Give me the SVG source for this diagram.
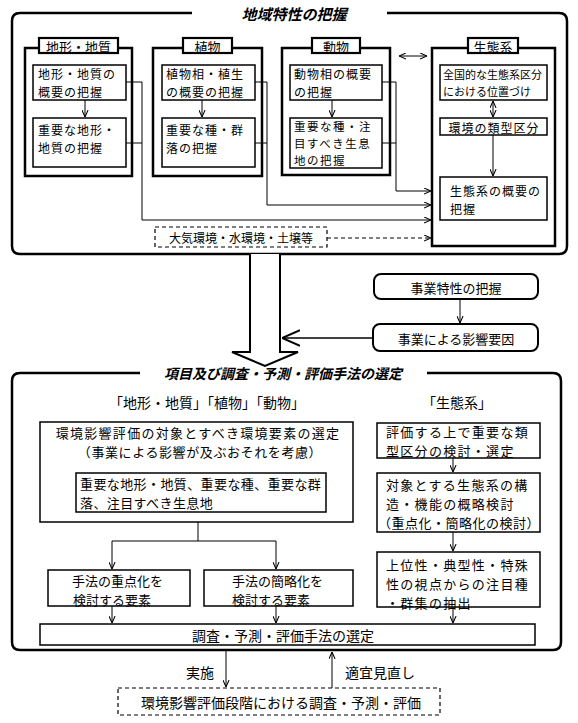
<svg xmlns="http://www.w3.org/2000/svg" width="578" height="723" viewBox="0 0 578 723">
<style>
text{font-family:"Noto Sans CJK JP","Noto Sans CJK SC",sans-serif;fill:#000;dominant-baseline:central}
.t13{font-size:13px}
.s{font-size:12px;letter-spacing:1px}
.s3{font-size:11.5px;letter-spacing:1.5px}
.b{font-size:13px;letter-spacing:1.3px}
.t14{font-size:14px}
.t12{font-size:12px}
.t11{font-size:11px}
.mid{text-anchor:middle}
.ttl{font-size:15px;font-weight:bold;font-style:italic;text-anchor:middle}
.box{fill:#fff;stroke:#000;stroke-width:1.5}
.obox{fill:#fff;stroke:#000;stroke-width:2.5}
.tab{fill:#fff;stroke:#000;stroke-width:2.2}
.frame{fill:none;stroke:#000;stroke-width:2.5}
.rbox{fill:#fff;stroke:#000;stroke-width:2}
.dbox{fill:#fff;stroke:#000;stroke-width:1.2;stroke-dasharray:4 3}
.c{fill:none;stroke:#000;stroke-width:1}
.a{marker-end:url(#ah)}
</style>
<defs>
<marker id="ah" viewBox="0 0 8 8" refX="8" refY="4" markerWidth="7" markerHeight="7" orient="auto-start-reverse" markerUnits="userSpaceOnUse">
<path d="M0,0.5 L8,4 L0,7.5" fill="none" stroke="#000" stroke-width="1.2"/>
</marker>
<marker id="ahL" viewBox="0 0 16 16" refX="16" refY="8" markerWidth="18" markerHeight="18" orient="auto" markerUnits="userSpaceOnUse">
<path d="M0,1 L16,8 L0,15" fill="none" stroke="#000" stroke-width="1.8"/>
</marker>
</defs>

<g id="regional">
<path class="frame" d="M192,13 H20 Q12,13 12,21 V246 Q12,254 20,254 H559 Q567,254 567,246 V21 Q567,13 559,13 H387"/>
<text class="ttl" x="294" y="13">地域特性の把握</text>
</g>

<g id="topo">
<rect class="obox" x="25" y="48" width="107" height="128"/>
<rect class="tab" x="39" y="38" width="79" height="15"/>
<text class="t13 mid" x="78.5" y="46">地形・地質</text>
<rect class="box" x="33" y="65" width="93" height="35"/>
<text class="s" x="38" y="73">地形・地質の</text>
<text class="s" x="38" y="91">概要の把握</text>
<rect class="box" x="33" y="118" width="93" height="49"/>
<text class="s" x="38" y="129">重要な地形・</text>
<text class="s" x="38" y="147">地質の把握</text>
</g>

<g id="plant">
<rect class="obox" x="153" y="48" width="109" height="128"/>
<rect class="tab" x="183" y="38" width="49" height="15"/>
<text class="t13 mid" x="207.5" y="46">植物</text>
<rect class="box" x="162" y="65" width="93" height="35"/>
<text class="s" x="166" y="73">植物相・植生</text>
<text class="s" x="166" y="91">の概要の把握</text>
<rect class="box" x="162" y="118" width="93" height="49"/>
<text class="s" x="166" y="129">重要な種・群</text>
<text class="s" x="166" y="147">落の把握</text>
</g>

<g id="animal">
<rect class="obox" x="282" y="48" width="108" height="127"/>
<rect class="tab" x="312" y="38" width="48" height="15"/>
<text class="t13 mid" x="336" y="46">動物</text>
<rect class="box" x="290" y="65" width="92" height="35"/>
<text class="s" x="294" y="73">動物相の概要</text>
<text class="s" x="294" y="91">の把握</text>
<rect class="box" x="290" y="118" width="92" height="50"/>
<text class="s3" x="294" y="126">重要な種・注</text>
<text class="s3" x="294" y="143">目すべき生息</text>
<text class="s3" x="294" y="160">地の把握</text>
</g>

<g id="eco">
<rect class="obox" x="432" y="48" width="123" height="198"/>
<rect class="tab" x="468" y="38" width="50" height="15"/>
<text class="t13 mid" x="493" y="46">生態系</text>
<rect class="box" x="440" y="65" width="107" height="35"/>
<text class="t11" x="443" y="74">全国的な生態系区分</text>
<text class="t11" x="443" y="91">における位置づけ</text>
<rect class="box" x="440" y="118" width="107" height="17"/>
<text class="s mid" x="494" y="127">環境の類型区分</text>
<rect class="box" x="440" y="177" width="107" height="43"/>
<text class="s" x="450" y="190">生態系の概要の</text>
<text class="s" x="450" y="208">把握</text>
</g>

<g id="env">
<rect class="dbox" x="155" y="227" width="172" height="20"/>
<text class="t12 mid" x="241" y="237">大気環境・水環境・土壌等</text>
</g>

<g id="bigarrow">
<path d="M250,254 V352 H232 L265,366 L298,352 H280 V254" fill="#fff" stroke="#000" stroke-width="2"/>
</g>

<g id="project">
<rect class="rbox" x="374" y="274" width="164" height="25" rx="7"/>
<text class="t13 mid" x="456" y="287">事業特性の把握</text>
</g>
<g id="impact">
<rect class="rbox" x="373" y="324" width="165" height="27" rx="7"/>
<text class="t13 mid" x="456" y="338">事業による影響要因</text>
</g>

<g id="selection">
<path class="frame" d="M140,373 H20 Q12,373 12,381 V642 Q12,650 20,650 H553 Q561,650 561,642 V381 Q561,373 553,373 H427"/>
<text class="ttl" x="283" y="373" style="font-size:14px">項目及び調査・予測・評価手法の選定</text>
<text class="t14 mid" x="207" y="402">「地形・地質」「植物」「動物」</text>
<text class="t14 mid" x="457" y="402">「生態系」</text>
</g>

<g id="elements">
<rect class="box" x="40" y="422" width="313" height="100"/>
<text class="b mid" x="198" y="432">環境影響評価の対象とすべき環境要素の選定</text>
<text class="mid" x="200" y="451" style="font-size:13px;letter-spacing:0.6px">（事業による影響が及ぶおそれを考慮）</text>
<rect class="box" x="76" y="473" width="250" height="39"/>
<text x="80" y="483" style="font-size:13px;letter-spacing:0.4px">重要な地形・地質、重要な種、重要な群</text>
<text x="80" y="502" style="font-size:13px;letter-spacing:0.4px">落、注目すべき生息地</text>
</g>

<g id="eco1">
<rect class="box" x="377" y="423" width="163" height="35"/>
<text class="b" x="386" y="431">評価する上で重要な類</text>
<text class="b" x="386" y="450">型区分の検討・選定</text>
</g>
<g id="eco2">
<rect class="box" x="377" y="473" width="163" height="59"/>
<text class="b" x="386" y="484">対象とする生態系の構</text>
<text class="b" x="386" y="503">造・機能の概略検討</text>
<text x="378" y="522" style="font-size:13px;letter-spacing:0.5px">（重点化・簡略化の検討）</text>
</g>
<g id="eco3">
<rect class="box" x="377" y="552" width="163" height="55"/>
<text class="b" x="386" y="564">上位性・典型性・特殊</text>
<text class="b" x="386" y="583">性の視点からの注目種</text>
<text class="b" x="386" y="602">・群集の抽出</text>
</g>

<g id="focus">
<rect class="box" x="48" y="570" width="142" height="36"/>
<text class="t13" x="72" y="580">手法の重点化を</text>
<text class="t13" x="73" y="599">検討する要素</text>
</g>
<g id="simplify">
<rect class="box" x="204" y="570" width="149" height="36"/>
<text class="t13" x="232" y="580">手法の簡略化を</text>
<text class="t13" x="232" y="599">検討する要素</text>
</g>

<g id="method">
<rect class="box" x="40" y="624" width="495" height="21"/>
<text class="t14 mid" x="283" y="635">調査・予測・評価手法の選定</text>
</g>

<g id="stage">
<rect class="dbox" x="118" y="688" width="322" height="27"/>
<text class="t14 mid" x="281" y="702">環境影響評価段階における調査・予測・評価</text>
</g>

<g id="connectors">
<path class="c a" d="M85,100 V117"/>
<path class="c a" d="M202,100 V117"/>
<path class="c a" d="M332,100 V117"/>
<path class="c a" d="M493,101 V117" marker-start="url(#ah)"/>
<path class="c a" d="M493,135 V176"/>
<path class="c a" d="M399,56 H427" marker-start="url(#ah)"/>
<path class="c a" d="M126,82 H142 V220 H431"/>
<path class="c" d="M126,143 H142"/>
<path class="c a" d="M255,82 H267 V205 H431"/>
<path class="c" d="M255,143 H267"/>
<path class="c a" d="M382,82 H396 V191 H431"/>
<path class="c" d="M382,143 H396"/>
<path class="c a" d="M327,238 H431" stroke-dasharray="4 3"/>
<path class="c a" d="M460,299 V323"/>
<path d="M373,338 H282" fill="none" stroke="#000" stroke-width="1.5" marker-end="url(#ahL)"/>
<path class="c a" d="M453,458 V472"/>
<path class="c a" d="M453,532 V551"/>
<path class="c a" d="M453,607 V623"/>
<path class="c" d="M198,522 V541 M112,541 H276"/>
<path class="c a" d="M112,541 V569"/>
<path class="c a" d="M276,541 V569"/>
<path class="c a" d="M112,606 V623"/>
<path class="c a" d="M276,606 V623"/>
<path class="c a" d="M226,651 V687"/>
<path class="c a" d="M332,688 V652"/>
<text class="t14 mid" x="200" y="672">実施</text>
<text class="t14" x="345" y="672">適宜見直し</text>
</g>
</svg>
